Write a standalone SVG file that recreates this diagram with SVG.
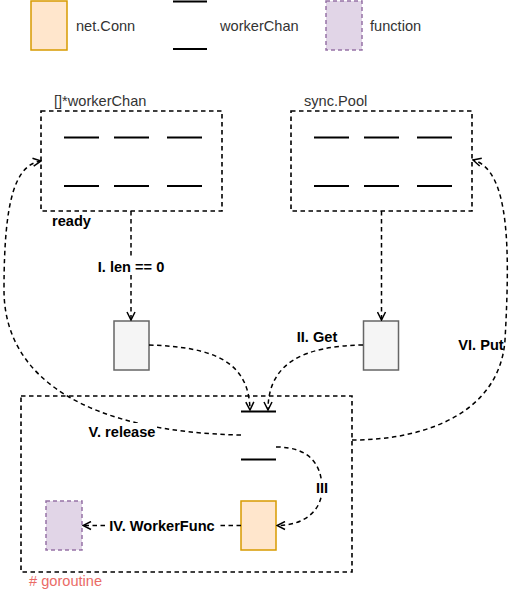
<svg xmlns="http://www.w3.org/2000/svg" width="512" height="592" viewBox="0 0 512 592">
<defs>
<style>
text{font-family:"Liberation Sans",Arial,sans-serif;font-size:14.6px}
.plain{fill:#333333}
.lbl{font-weight:bold;fill:#000}
.cont{fill:none;stroke:#000;stroke-width:1.6;stroke-dasharray:4.5 3.5}
.bar{stroke:#000;stroke-width:2}
.edge{fill:none;stroke:#000;stroke-width:1.5;stroke-dasharray:4.5 3.5}
.gray{fill:#f5f5f5;stroke:#666666;stroke-width:1.5}
.conn{fill:#ffe6cc;stroke:#d79b00;stroke-width:1.5}
.func{fill:#e1d5e7;stroke:#9673a6;stroke-width:1.5;stroke-dasharray:4 3}
</style>
<marker id="arr" markerWidth="10" markerHeight="10" viewBox="0 0 10 10" refX="9" refY="5" orient="auto" markerUnits="userSpaceOnUse">
<path d="M1,1 L9,5 L1,9" fill="none" stroke="#000" stroke-width="1.5"/>
</marker>
</defs>
<rect width="512" height="592" fill="#fff"/>

<g id="legend-netconn">
<rect x="31" y="1" width="36" height="49" class="conn"/>
<text x="76" y="31" class="plain">net.Conn</text>
</g>
<g id="legend-workerchan">
<line x1="173" y1="1.5" x2="207" y2="1.5" class="bar"/>
<line x1="173" y1="49" x2="207" y2="49" class="bar"/>
<text x="220" y="31" class="plain">workerChan</text>
</g>
<g id="legend-function">
<rect x="326" y="1" width="36" height="49" class="func"/>
<text x="370" y="31" class="plain">function</text>
</g>

<g id="ready">
<rect x="41" y="111" width="181" height="100" class="cont"/>
<text x="54" y="106" class="plain">[]*workerChan</text>
<line x1="64" y1="137.5" x2="99" y2="137.5" class="bar"/>
<line x1="114" y1="137.5" x2="149" y2="137.5" class="bar"/>
<line x1="167" y1="137.5" x2="202" y2="137.5" class="bar"/>
<line x1="64" y1="186" x2="99" y2="186" class="bar"/>
<line x1="114" y1="186" x2="149" y2="186" class="bar"/>
<line x1="167" y1="186" x2="202" y2="186" class="bar"/>
<text x="52" y="226" class="lbl">ready</text>
</g>

<g id="workerChanPool">
<rect x="291" y="111" width="181" height="100" class="cont"/>
<text x="304" y="106" class="plain">sync.Pool</text>
<line x1="314" y1="137.5" x2="349" y2="137.5" class="bar"/>
<line x1="364" y1="137.5" x2="399" y2="137.5" class="bar"/>
<line x1="417" y1="137.5" x2="452" y2="137.5" class="bar"/>
<line x1="314" y1="186" x2="349" y2="186" class="bar"/>
<line x1="364" y1="186" x2="399" y2="186" class="bar"/>
<line x1="417" y1="186" x2="452" y2="186" class="bar"/>
</g>

<g id="goroutine">
<rect x="21" y="396" width="331" height="176" class="cont"/>
<text x="29" y="586" fill="#ea6b66">#&#160;goroutine</text>
</g>

<g id="box-ready">
<rect x="114" y="321" width="35" height="49" class="gray"/>
</g>
<g id="box-pool">
<rect x="363.5" y="321" width="35" height="49" class="gray"/>
</g>
<g id="worker-chan">
<line x1="241" y1="411.5" x2="276" y2="411.5" class="bar"/>
<line x1="241" y1="459.5" x2="276" y2="459.5" class="bar"/>
</g>
<g id="net-conn">
<rect x="241" y="501" width="35" height="49" class="conn"/>
</g>
<g id="worker-func">
<rect x="46" y="501" width="36" height="49" class="func"/>
</g>

<g id="connectors">
<path d="M131,211 V320" class="edge" marker-end="url(#arr)"/>
<path d="M381.5,211 V320" class="edge" marker-end="url(#arr)"/>
<path d="M149,345 C215,347 249,362 250,410" class="edge" marker-end="url(#arr)"/>
<path d="M363,345 C305,346 268,362 268,410" class="edge" marker-end="url(#arr)"/>
<path d="M352,440 C430,440 500,410 505,340 C510,250 510,170 473,160" class="edge" marker-end="url(#arr)"/>
<path d="M241,435 C90,432 4,380 4,290 C4,200 15,165 41,161" class="edge" marker-end="url(#arr)"/>
<path d="M276,447 C310,447 322,465 322,489 C322,510 305,525.5 277,525.5" class="edge" marker-end="url(#arr)"/>
<path d="M241,525.5 H83" class="edge" marker-end="url(#arr)"/>

<rect x="97" y="258" width="68" height="17" fill="#fff"/>
<text x="131" y="271.5" class="lbl" text-anchor="middle">I. len == 0</text>
<text x="317" y="341.5" class="lbl" text-anchor="middle">II. Get</text>
<rect x="458" y="335" width="44" height="17" fill="#fff"/>
<text x="481" y="349.5" class="lbl" text-anchor="middle">VI. Put</text>
<rect x="86" y="423" width="71" height="17" fill="#fff"/>
<text x="122" y="437" class="lbl" text-anchor="middle">V. release</text>
<rect x="313" y="481" width="18" height="16" fill="#fff"/>
<text x="322" y="493" class="lbl" text-anchor="middle">III</text>
<rect x="107" y="517" width="110" height="17" fill="#fff"/>
<text x="162" y="530.5" class="lbl" text-anchor="middle">IV. WorkerFunc</text>
</g>
</svg>
